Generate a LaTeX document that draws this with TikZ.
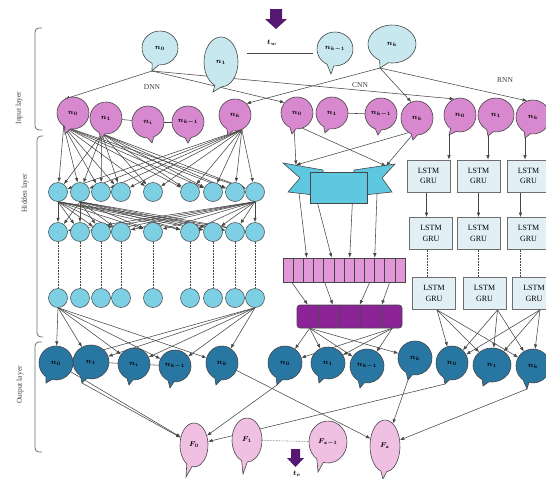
\documentclass[tikz,border=0pt]{standalone}
\usepackage{fontspec}
\setmainfont{Liberation Serif}
\usepackage{bm}
\usetikzlibrary{arrows.meta,shapes.geometric,calc}
\definecolor{lblue}{RGB}{200,232,240}
\definecolor{pinkn}{RGB}{216,136,206}
\definecolor{cyann}{RGB}{125,208,228}
\definecolor{dblue}{RGB}{40,118,162}
\definecolor{fpink}{RGB}{240,192,226}
\definecolor{ribc}{RGB}{95,200,225}
\definecolor{pbarc}{RGB}{226,152,216}
\definecolor{purpc}{RGB}{140,35,150}
\definecolor{darrow}{RGB}{85,25,115}
\definecolor{lstmc}{RGB}{226,240,246}
\definecolor{edgec}{RGB}{70,70,70}
\definecolor{brc}{RGB}{110,110,110}
\pgfdeclarelayer{back}\pgfdeclarelayer{bg}\pgfsetlayers{back,bg,main}
\newcommand{\bub}[8]{%
  \pgfmathsetmacro{\bubA}{#5+11}\pgfmathsetmacro{\bubB}{#5+349}%
  \filldraw[fill=#7,draw=edgec,line width=0.6pt] (#2) ++(\bubA:#3 and #4) arc[start angle=\bubA, end angle=\bubB, x radius=#3, y radius=#4] -- ($(#2)+(#6)$) -- cycle;
  \node[ellipse,inner sep=0pt,minimum width={2*#3},minimum height={2*#4}] (#1) at (#2) {\fontsize{7}{8}\selectfont$\bm{#8}$};
  \coordinate (#1-t) at ($(#2)+(#6)$);
}
\begin{document}
\begin{tikzpicture}[x=1pt,y=-1pt,
  line/.style={draw=edgec,line width=0.55pt},
  arr/.style={draw=edgec,line width=0.55pt,-{Latex[length=4.5pt,width=3.5pt]}},
  hid/.style={circle,draw=edgec,fill=cyann,minimum size=19pt,inner sep=0pt,line width=0.5pt},
  lstm/.style={draw=brc,fill=lstmc,line width=0.8pt,minimum width=43pt,minimum height=32pt,align=center,inner sep=1pt,font=\fontsize{8}{10.5}\selectfont},
  lab/.style={font=\fontsize{7.5}{8}\selectfont,text=black!75},
  brk/.style={draw=brc,line width=0.8pt,rounded corners=4pt}]
\useasboundingbox (0,0) rectangle (546,479);
\begin{pgfonlayer}{back}
\fill[white] (0,0) rectangle (546,479);
\end{pgfonlayer}

% brackets and layer labels
\draw[brk] (42,28) -- (35,28) -- (35,130) -- (42,130);
\draw[brk] (43,136) -- (37,136) -- (37,337) -- (43,337);
\draw[brk] (42,342) -- (35,342) -- (35,452) -- (42,452);
\node[lab,rotate=90] (inl) at (19,108) {Input layer};
\node[lab,rotate=90] (hidl) at (25,193) {Hidden layer};
\node[lab,rotate=90] (outl) at (20,385) {Output layer};

% top arrow and label
\fill[darrow] (270,9) -- (282,9) -- (282,19) -- (287,19) -- (276,29) -- (265,19) -- (270,19) -- cycle;
\node[font=\fontsize{7.5}{8}\selectfont] (tw) at (272,43) {$\bm{t_w}$};

% top bubbles
\bub{tn0}{160,48}{18}{17}{105}{-8,23}{lblue}{n_0}
\bub{tn1}{221,62}{17}{25}{100}{-8,30}{lblue}{n_1}
\bub{tnk1}{335,49}{18}{17}{105}{-4,25}{lblue}{n_{k-1}}
\bub{tnk}{392,44}{24}{19}{110}{-12,24}{lblue}{n_k}

\node[lab] (dnnlab) at (152,87) {DNN};
\node[lab] (cnnlab) at (360,85) {CNN};
\node[lab] (rnnlab) at (505,80) {RNN};

% input pink bubbles
\bub{dnn0}{73,113}{16}{16}{110}{-8,21}{pinkn}{n_0}
\bub{dnn1}{106,118}{16}{16}{105}{-5,21}{pinkn}{n_1}
\bub{dnni}{148,122}{16}{16}{80}{4,21}{pinkn}{n_i}
\bub{dnnk1}{188,122}{16}{16}{90}{0,21}{pinkn}{n_{k-1}}
\bub{dnnk}{235,115}{16}{16}{110}{-7,21}{pinkn}{n_k}
\bub{cnn0}{297,113}{16}{16}{105}{-5,21}{pinkn}{n_0}
\bub{cnn1}{332,113}{16}{16}{110}{-7,20}{pinkn}{n_1}
\bub{cnnk1}{381,114}{16}{16}{100}{-3,21}{pinkn}{n_{k-1}}
\bub{cnnk}{417,118}{16}{17}{100}{-4,22}{pinkn}{n_k}
\bub{rnn0}{460,115}{16}{17}{115}{-11,20}{pinkn}{n_0}
\bub{rnn1}{496,115}{18}{17}{110}{-8,21}{pinkn}{n_1}
\bub{rnnk}{533,117}{17}{17}{110}{-8,21}{pinkn}{n_k}

% hidden DNN circles
\foreach \x [count=\i] in {58,80,101,121,153,190,213,235,255} {
  \node[hid] (h1-\i) at (\x,192) {};
  \node[hid] (h2-\i) at (\x,232) {};
  \node[hid] (h3-\i) at (\x,298) {};
}

% CNN ribbon
\filldraw[fill=ribc,draw=edgec,line width=0.6pt] (283,163) -- (323,170) -- (323,196) -- (288,192) -- (300,178) -- cycle;
\filldraw[fill=ribc,draw=edgec,line width=0.6pt] (395,164) -- (354,170) -- (354,196) -- (392,192) -- (382,178) -- cycle;
\node[draw=edgec,fill=ribc,line width=0.6pt,minimum width=57pt,minimum height=31pt,inner sep=0pt] (rib) at (338.5,188) {};
\coordinate (ribL) at (296,165);
\coordinate (ribR) at (386,166);
\coordinate (ribLb) at (299,193);
\coordinate (ribRb) at (377,194);

% pink bar and purple bar
\node[draw=edgec,fill=pbarc,line width=0.6pt,minimum width=122pt,minimum height=24pt,inner sep=0pt] (pbar) at (344,270) {};
\foreach \k in {1,...,11} \draw[line] (283+\k*122/12,258) -- (283+\k*122/12,282);
\node[draw=edgec,fill=purpc,line width=0.6pt,rounded corners=3pt,minimum width=105pt,minimum height=23pt,inner sep=0pt] (ubar) at (349.5,316.5) {};
\foreach \k in {1,...,4} \draw[draw=black!70,line width=0.6pt] (297+\k*21,305) -- (297+\k*21,328);

% LSTM boxes
\node[lstm] (l11) at (428.5,176) {LSTM\\GRU};
\node[lstm] (l12) at (478.5,176) {LSTM\\GRU};
\node[lstm] (l13) at (528.5,176) {LSTM\\GRU};
\node[lstm] (l21) at (431,233.5) {LSTM\\GRU};
\node[lstm] (l22) at (478.5,233.5) {LSTM\\GRU};
\node[lstm] (l23) at (528.5,233.5) {LSTM\\GRU};
\node[lstm] (l31) at (434,293.5) {LSTM\\GRU};
\node[lstm] (l32) at (484.5,293.5) {LSTM\\GRU};
\node[lstm] (l33) at (534,293.5) {LSTM\\GRU};

% output bubbles
\bub{dnno0}{56,363}{17}{17}{115}{-10,20}{dblue}{n_0}
\bub{dnno1}{91,362}{18}{17}{115}{-9,21}{dblue}{n_1}
\bub{dnno2}{134,364}{16}{16}{105}{-5,21}{dblue}{n_i}
\bub{dnnok1}{175,366}{16}{16}{105}{-5,22}{dblue}{n_{k-1}}
\bub{dnnok}{222,363}{16}{17}{105}{-6,22}{dblue}{n_k}
\bub{cnno0}{285,363}{17}{17}{110}{-8,22}{dblue}{n_0}
\bub{cnno1}{328,363}{17}{16}{115}{-9,20}{dblue}{n_1}
\bub{cnnok1}{367,366}{17}{17}{110}{-7,22}{dblue}{n_{k-1}}
\bub{cnnok}{415,358}{17}{17}{110}{-7,22}{dblue}{n_k}
\bub{rnno0}{452,363}{16}{17}{110}{-7,21}{dblue}{n_0}
\bub{rnno1}{492,365}{19}{17}{110}{-9,21}{dblue}{n_1}
\bub{rnnok}{533,366}{17}{17}{115}{-6,23}{dblue}{n_k}

% final bubbles
\bub{F0}{194,445}{14}{22}{110}{-8,32}{fpink}{F_0}
\bub{F1}{247,440}{15}{22}{100}{-4,34}{fpink}{F_1}
\bub{Fz1}{328,442}{19}{21}{115}{-10,30}{fpink}{F_{z-1}}
\bub{Fz}{385,446}{15}{26}{95}{-2,33}{fpink}{F_z}

% bottom arrow and label
\fill[darrow] (291,449) -- (300,449) -- (300,458) -- (304,458) -- (295.5,467) -- (287,458) -- (291,458) -- cycle;
\node[font=\fontsize{7.5}{8}\selectfont] (te) at (297,474) {$\bm{t_e}$};

\begin{pgfonlayer}{bg}
% top connections
\draw[arr] (tn0-t) -- (dnn0.120);
\draw[arr] (tn0-t) -- (cnn0.140);
\draw[arr] (tn0-t) -- (rnn0.110);
\draw[arr] (tnk-t) -- (dnnk.45);
\draw[arr] (tnk-t) -- (cnnk.110);
\draw[arr] (tnk-t) -- (rnnk.110);
\draw[line] ([xshift=9pt,yshift=9pt]tn1.east) -- ([xshift=-4pt,yshift=-4pt]tnk1.west);
\draw[line] (dnn1) -- (dnni);
\draw[line] (dnni) -- (dnnk1);
\draw[line] (cnn1) -- (cnnk1);
% DNN
\foreach \s/\a in {dnn0/235,dnn1/255,dnnk/295}
  \foreach \j in {1,...,9} \draw[arr] (\s.\a) -- (h1-\j);
\foreach \s in {1,2,9}
  \foreach \j in {1,...,9} \draw[arr] (h1-\s.south) -- (h2-\j);
\foreach \j in {1,...,9} \draw[line,densely dotted] (h2-\j) -- (h3-\j);
\foreach \s in {1,9}
  \foreach \t in {dnno0,dnno1,dnno2,dnnok1,dnnok} \draw[arr] (h3-\s.south) -- (\t);
% CNN
\draw[arr] (cnn0.260) -- (ribL);
\draw[arr] (cnn0.290) -- (ribR);
\draw[arr] (cnnk.240) -- (ribL);
\draw[arr] (cnnk.255) -- (ribR);
\draw[arr] (ribLb) -- ([xshift=24pt]pbar.north west);
\draw[arr] ([xshift=8pt]rib.south west) -- ([xshift=49pt]pbar.north west);
\draw[arr] ([xshift=-15pt]rib.south east) -- ([xshift=67pt]pbar.north west);
\draw[arr] (ribRb) -- ([xshift=92pt]pbar.north west);
\draw[arr] ([xshift=9pt]pbar.south west) -- ([xshift=11pt]ubar.north west);
\draw[arr] ([xshift=42pt]pbar.south west) -- ([xshift=36pt]ubar.north west);
\draw[arr] ([xshift=87pt]pbar.south west) -- ([xshift=63pt]ubar.north west);
\draw[arr] ([xshift=107pt]pbar.south west) -- ([xshift=85pt]ubar.north west);
\foreach \t in {cnno0,cnno1,cnnok1,cnnok} \draw[arr] ([xshift=13pt]ubar.south west) -- (\t);
\foreach \t in {cnno0,cnno1,cnnok1} \draw[arr] ([xshift=-10pt]ubar.south east) -- (\t);
% RNN
\draw[arr] (rnn0-t) -- (rnn0-t |- l11.north);
\draw[arr] (rnn1-t) -- (rnn1-t |- l12.north);
\draw[arr] (rnnk-t) -- (rnnk-t |- l13.north);
\draw[arr] ([xshift=-2pt]l11.south) -- ([xshift=-2pt]l11.south |- l21.north);
\draw[arr] (l12.south) -- (l12.south |- l22.north);
\draw[arr] ([xshift=-8pt]l13.south) -- ([xshift=-8pt]l13.south |- l23.north);
\draw[line,densely dotted] ([xshift=-4pt]l21.south) -- ([xshift=-4pt]l21.south |- l31.north);
\draw[line,densely dotted] (l22.south) -- (l22.south |- l32.north);
\draw[line,densely dotted] ([xshift=-8pt]l23.south) -- ([xshift=-8pt]l23.south |- l33.north);
\foreach \s/\d in {l31/3,l32/13,l33/6}
  \foreach \t in {rnno0,rnno1,rnnok} \draw[arr] ([xshift=\d pt]\s.south) -- (\t);
% output row links
\draw[line] (dnno1) -- (dnno2);
\draw[line] (dnno2) -- (dnnok1);
% to final
\draw[arr] (dnno0) -- (F0);
\draw[arr] (dnno1-t) -- (F0);
\draw[arr] (cnno0-t) -- (F0);
\draw[arr] (rnno0-t) -- (F0);
\draw[arr] (dnnok) -- (Fz);
\draw[arr] (cnnok-t) -- (Fz);
\draw[arr] (rnnok-t) -- (Fz);
\draw[line,densely dotted] (F1) -- (Fz1);
\end{pgfonlayer}
\end{tikzpicture}
\end{document}
